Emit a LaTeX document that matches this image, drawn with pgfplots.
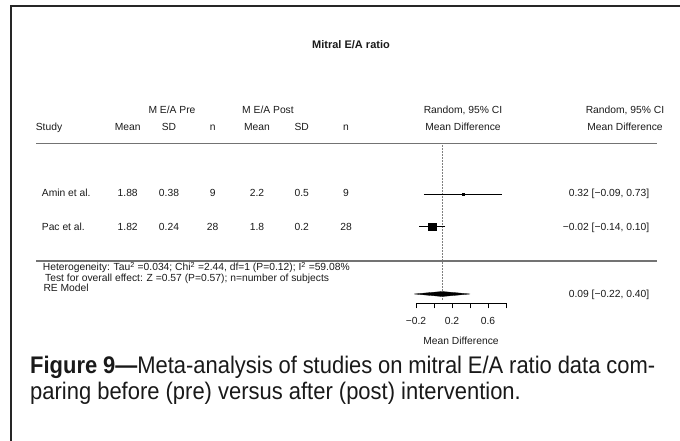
\documentclass[border=0pt]{standalone}
\usepackage{fontspec}
\setmainfont{Liberation Sans}
\newfontfamily\capfont[FakeStretch=0.915]{Liberation Sans}
\usepackage{pgfplots}
\pgfplotsset{compat=1.18}
\newcommand\fs{\fontsize{10.3}{12}\selectfont}
\definecolor{txt}{HTML}{1A1A1A}
\begin{document}
\begin{tikzpicture}[x=1pt,y=1pt]
% main axis: x in mean-difference units, y in pixels from the bottom
\begin{axis}[at={(0pt,0pt)},anchor=south west,scale only axis,width=680pt,height=441pt,
  xmin=-4.822222,xmax=2.733333,ymin=0,ymax=441,hide axis,clip=false]
\addplot[gray,densely dotted,line width=0.5pt] coordinates {(0.09,141) (0.09,298)};
\addplot[black,only marks,mark=square*,mark size=1.1pt,
  error bars/.cd,x dir=both,x explicit,
  error bar style={black,line width=0.5pt},
  error mark options={black,mark size=2pt,line width=0.5pt}]
  coordinates {(0.32,247) +- (0.41,0)};
\addplot[black,only marks,mark=square*,mark size=3.6pt,
  error bars/.cd,x dir=both,x explicit,
  error bar style={black,line width=0.5pt},
  error mark options={black,mark size=2pt,line width=0.5pt}]
  coordinates {(-0.02,214.3) +- (0.12,0)};
\addplot[fill=black,draw=black,line width=0.3pt] coordinates {(-0.22,147) (0.09,149.5) (0.40,147) (0.09,144.5)} -- cycle;
\end{axis}
% forest x axis
\begin{axis}[at={(416pt,137.7pt)},anchor=south west,scale only axis,width=90pt,height=1pt,
  xmin=-0.2,xmax=0.8,ymin=0,ymax=1,axis x line*=bottom,axis y line=none,
  axis line style={-,black,line width=0.5pt},
  xtick={-0.2,0,0.2,0.4,0.6,0.8},xticklabels={−0.2,,0.2,,0.6,},
  tick align=outside,major tick length=5pt,tick style={black,line width=0.5pt},
  xticklabel style={font=\fs,inner sep=0pt,anchor=base,yshift=-16pt,text=txt}]
\end{axis}
% frame and rules
\draw[black!85,line width=2pt] (11,0) -- (11,434.5) -- (681,434.5);
\draw[black!55,line width=1.2pt] (36,297.7) -- (657,297.7);
\draw[black!55,line width=1.2pt] (36,180) -- (657,180);
% texts
\begin{scope}[every node/.style={inner sep=0pt,text=txt,font=\fs}]
\node[anchor=base,font=\fontsize{11}{13}\selectfont\bfseries] at (351,392) {Mitral E/A ratio};
\node[anchor=base] at (172,327.6) {M E/A Pre};
\node[anchor=base] at (268,327.6) {M E/A Post};
\node[anchor=base] at (463,327.6) {Random, 95\% CI};
\node[anchor=base] at (625,327.6) {Random, 95\% CI};
\node[anchor=base] at (49,310.6) {Study};
\node[anchor=base] at (127.7,310.6) {Mean};
\node[anchor=base] at (169,310.6) {SD};
\node[anchor=base] at (212.7,310.6) {n};
\node[anchor=base] at (257,310.6) {Mean};
\node[anchor=base] at (301.7,310.6) {SD};
\node[anchor=base] at (346,310.6) {n};
\node[anchor=base] at (463,310.6) {Mean Difference};
\node[anchor=base] at (625,310.6) {Mean Difference};
% rows
\node[anchor=base west] at (41.7,244.4) {Amin et al.};
\node[anchor=base] at (127.7,244.4) {1.88};
\node[anchor=base] at (169,244.4) {0.38};
\node[anchor=base] at (212.7,244.4) {9};
\node[anchor=base] at (257,244.4) {2.2};
\node[anchor=base] at (301.7,244.4) {0.5};
\node[anchor=base] at (346,244.4) {9};
\node[anchor=base east] at (649.5,244.4) {0.32 [−0.09, 0.73]};
\node[anchor=base west] at (41.7,210.6) {Pac et al.};
\node[anchor=base] at (127.7,210.6) {1.82};
\node[anchor=base] at (169,210.6) {0.24};
\node[anchor=base] at (212.7,210.6) {28};
\node[anchor=base] at (257,210.6) {1.8};
\node[anchor=base] at (301.7,210.6) {0.2};
\node[anchor=base] at (346,210.6) {28};
\node[anchor=base east] at (649.5,210.6) {−0.02 [−0.14, 0.10]};
% summary
\node[anchor=base west] at (42.7,170) {Heterogeneity: Tau\textsuperscript{2} =0.034; Chi\textsuperscript{2} =2.44, df=1 (P=0.12); I\textsuperscript{2} =59.08\%};
\node[anchor=base west] at (45,159.2) {Test for overall effect: Z =0.57 (P=0.57); n=number of subjects};
\node[anchor=base west] at (43.3,149.8) {RE Model};
\node[anchor=base east] at (649.5,143.3) {0.09 [−0.22, 0.40]};
\node[anchor=base] at (461,96.6) {Mean Difference};
\end{scope}
% caption
\node[anchor=base west,inner sep=0pt,text=black!90,font=\capfont\fontsize{24}{28}\selectfont] at (30,67) {\makebox[625pt][s]{\textbf{Figure 9—}Meta-analysis of studies on mitral E/A ratio data com-}};
\node[anchor=base west,inner sep=0pt,text=black!90,font=\capfont\fontsize{24}{28}\selectfont] at (30,41) {paring before (pre) versus after (post) intervention.};
\pgfresetboundingbox
\path (0,0) rectangle (680,441);
\end{tikzpicture}
\end{document}
